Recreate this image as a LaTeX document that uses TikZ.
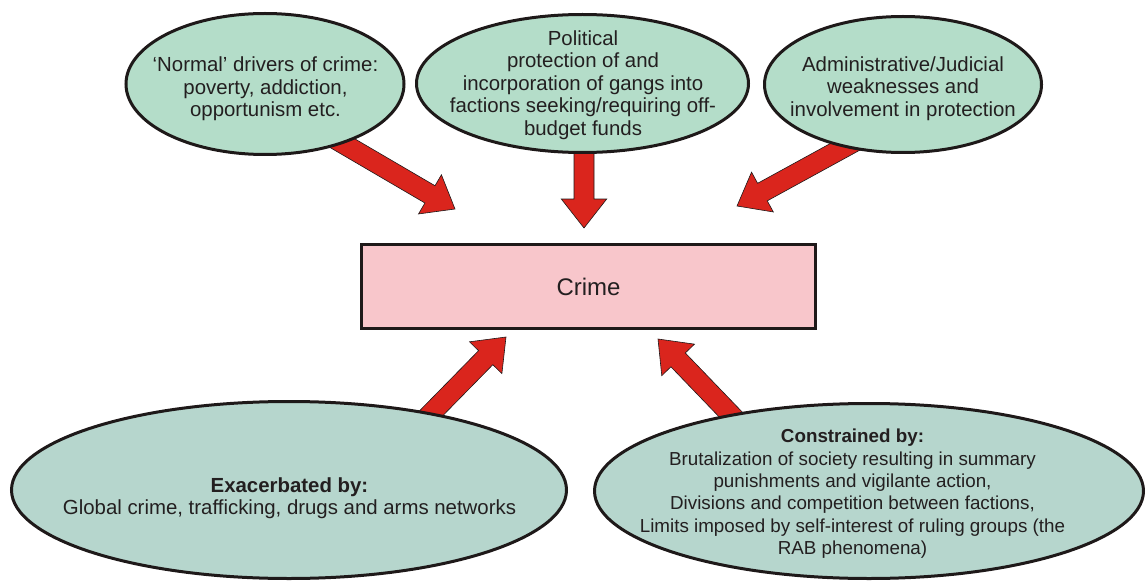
\documentclass[tikz,border=0pt]{standalone}
\usepackage{fontspec}
\setmainfont{Liberation Sans}
\usetikzlibrary{calc,shapes.geometric,backgrounds}
\definecolor{txt}{RGB}{35,31,32}
\definecolor{topfill}{RGB}{180,221,201}
\definecolor{botfill}{RGB}{182,214,205}
\definecolor{crimefill}{RGB}{248,198,203}
\definecolor{arrred}{RGB}{218,37,29}
\definecolor{edgecol}{RGB}{30,25,25}
\tikzset{
  bubble/.style={ellipse, draw=edgecol, line width=3pt, inner sep=0pt},
  bubtext/.style={align=center, text=txt, font=\fontsize{20.4}{22.5}\selectfont, inner sep=0pt},
  smalltext/.style={bubtext, font=\fontsize{18.8}{22.4}\selectfont},
  crimebox/.style={rectangle, draw=edgecol, line width=3pt, fill=crimefill,
    minimum width=454pt, minimum height=84pt, text=txt, font=\fontsize{24}{28}\selectfont},
  blockarr/.style={fill=arrred, draw=edgecol, line width=0.6pt, line join=miter},
}
\newcommand\blockarrow[2]{%
  \coordinate (ba-s) at #1;
  \coordinate (ba-t) at #2;
  \coordinate (ba-h) at ($(ba-t)!29pt!(ba-s)$);
  \path[blockarr] ($(ba-s)!10pt!90:(ba-t)$) -- ($(ba-h)!10pt!90:(ba-t)$)
    -- ($(ba-h)!22.7pt!90:(ba-t)$) -- (ba-t) -- ($(ba-h)!22.7pt!-90:(ba-t)$)
    -- ($(ba-h)!10pt!-90:(ba-t)$) -- ($(ba-s)!10pt!-90:(ba-t)$) -- cycle;
}
\begin{document}
\begin{tikzpicture}[x=1pt,y=-1pt]
\useasboundingbox (0,0) rectangle (1146,583);
% top bubbles
\node[bubble, fill=topfill, minimum width=278pt, minimum height=141pt] (e1) at (265,84) {};
\node[bubble, fill=topfill, minimum width=332pt, minimum height=138pt] (e2) at (582.5,83.5) {};
\node[bubble, fill=topfill, minimum width=277pt, minimum height=136pt] (e3) at (903,84.5) {};
% bottom bubbles
\node[bubble, fill=botfill, minimum width=555pt, minimum height=177pt] (e4) at (289,490) {};
\node[bubble, fill=botfill, minimum width=549pt, minimum height=175pt] (e5) at (869,491) {};
% texts
\node[bubtext] (x1) at (265.5,89) {‘Normal’ drivers of crime:\\poverty, addiction,\\opportunism etc.};
\node[bubtext] (x2) at (583,84.8) {Political\\protection of and\\incorporation of gangs into\\factions seeking/requiring off-\\budget funds};
\node[bubtext] (x3) at (903,88.5) {Administrative/Judicial\\weaknesses and\\involvement in protection};
\node[bubtext] (x4) at (289.5,498) {\textbf{Exacerbated by:}\\Global crime, trafficking, drugs and arms networks};
\node[smalltext] (x5) at (852.5,493.8) {\textbf{Constrained by:}\\Brutalization of society resulting in summary\\punishments and vigilante action,\\Divisions and competition between factions,\\Limits imposed by self-interest of ruling groups (the\\RAB phenomena)};
% crime box
\node[crimebox] (crime) at (588.5,286.5) {Crime};
% arrow tips
\coordinate (t1) at (455,209);
\coordinate (t2) at (584,228);
\coordinate (t3) at (737,206);
\coordinate (t4) at (506,337);
\coordinate (t5) at (658,339);
\begin{scope}[on background layer]
\blockarrow{([shift={(60,49)}]e1.center)}{(t1)}
\blockarrow{([shift={(1.5,20)}]e2.center)}{(t2)}
\blockarrow{([shift={(-34.5,49.5)}]e3.center)}{(t3)}
\blockarrow{([shift={(112,-46)}]e4.center)}{(t4)}
\blockarrow{([shift={(-107,-44)}]e5.center)}{(t5)}
\end{scope}
\end{tikzpicture}
\end{document}
